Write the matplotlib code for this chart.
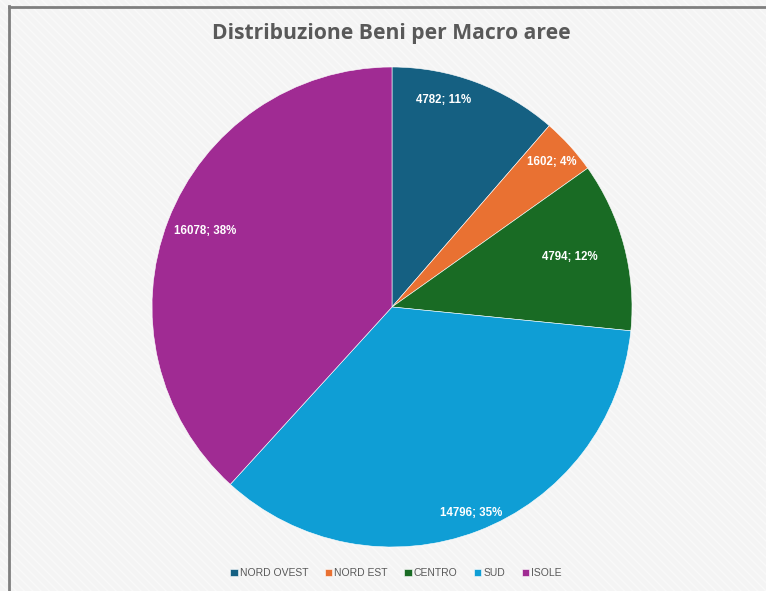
import numpy as np
import matplotlib
matplotlib.use("Agg")
import matplotlib.pyplot as plt
from matplotlib.patches import Rectangle
from matplotlib.lines import Line2D

# dati
aree = ["NORD OVEST", "NORD EST", "CENTRO", "SUD", "ISOLE"]
beni = [4782, 1602, 4794, 14796, 16078]
percentuali = [11, 4, 12, 35, 38]
colori = ["#156082", "#E97132", "#196B24", "#0F9ED5", "#A02B93"]

# posizione delle etichette (raggio relativo, spostamento angolare in gradi)
lab_r = [0.89, 0.90, 0.77, 0.92, 0.84]
lab_shift = [6.5, 0.0, 1.0, 0.0, -1.0]

W, H = 766, 591
fig = plt.figure(figsize=(W / 100, H / 100), dpi=100)
fig.patch.set_facecolor("#f4f4f4")

# sfondo a righe diagonali
bg = Rectangle((0, 0), 1, 1, transform=fig.transFigure, facecolor="none",
               edgecolor="#f9f9f9", hatch="\\\\\\\\", linewidth=0, zorder=-5)
fig.patches.append(bg)

# bordo sinistro e superiore
fig.add_artist(Line2D([8.5 / W, 8.5 / W], [0, 1 - 6 / H], transform=fig.transFigure,
                      color="#7f7f7f", linewidth=2))
fig.add_artist(Line2D([8.5 / W, 1], [1 - 6.5 / H, 1 - 6.5 / H], transform=fig.transFigure,
                      color="#7f7f7f", linewidth=2))

cx, cy, r = 392, 307, 240
ax = fig.add_axes([(cx - r) / W, (H - cy - r) / H, 2 * r / W, 2 * r / H])
ax.set_facecolor("none")

wedges, _ = ax.pie(beni, colors=colori, startangle=90, counterclock=False,
                   radius=1, wedgeprops=dict(edgecolor="white", linewidth=0.4))
ax.set_xlim(-1, 1)
ax.set_ylim(-1, 1)
ax.set_aspect("equal")
ax.axis("off")

for w, v, p, rr, sh in zip(wedges, beni, percentuali, lab_r, lab_shift):
    ang = np.deg2rad((w.theta1 + w.theta2) / 2 + sh)
    ax.text(rr * np.cos(ang), rr * np.sin(ang), f"{v}; {p}%", ha="center", va="center",
            color="white", fontsize=8.3, fontweight="bold", family="Liberation Sans")

fig.text(391 / W, 1 - 34 / H, "Distribuzione Beni per Macro aree", ha="center", va="center",
         fontsize=15.2, fontweight="bold", color="#595959", family="Open Sans")

leg = fig.legend(wedges, aree, loc="center", bbox_to_anchor=(396 / W, 1 - 573 / H), ncol=5,
                 frameon=False, fontsize=7.5, handlelength=0.7, handleheight=0.7,
                 handletextpad=0.2, columnspacing=1.6, borderpad=0)
for t in leg.get_texts():
    t.set_color("#595959")
    t.set_family("Liberation Sans")

fig.savefig("out.png", dpi=100, facecolor=fig.get_facecolor())
